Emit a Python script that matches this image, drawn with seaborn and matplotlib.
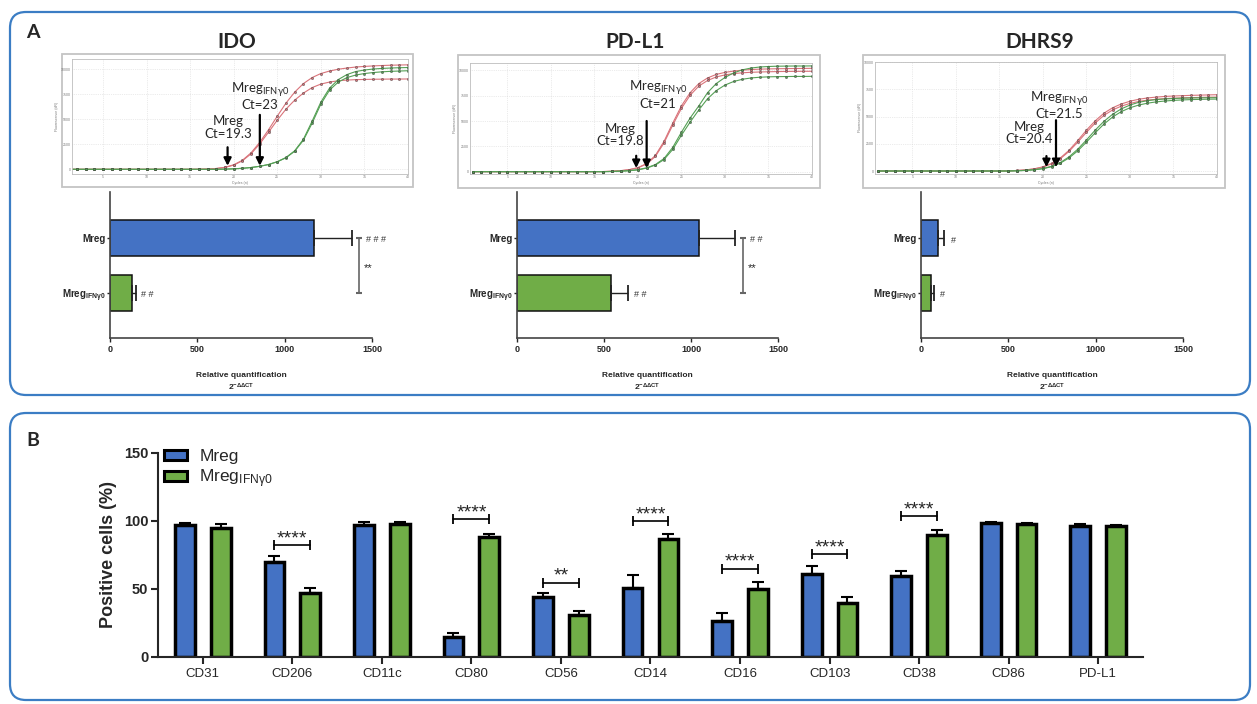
import matplotlib
matplotlib.use('Agg')
import pandas as pd
import seaborn as sns
import matplotlib.pyplot as plt
from matplotlib.patches import FancyBboxPatch, Rectangle
from matplotlib.transforms import IdentityTransform

# ---------------- data ----------------
# panel A, top: amplification curves (fluorescence per cycle), two replicates per group
cycles = list(range(1, 41))

ido_mreg_1 = [0, 0, 0, 0, 0, 0, 0, 0, 0, 0,
              0, 0, 0, 0, 0, 10, 30, 80, 200, 450,
              900, 1650, 2700, 3950, 5300, 6600, 7700, 8550, 9150, 9550,
              9800, 9980, 10100, 10200, 10260, 10310, 10350, 10380, 10400, 10420]
ido_mreg_2 = [0, 0, 0, 0, 0, 0, 0, 0, 0, 0,
              0, 0, 0, 0, 0, 10, 30, 80, 190, 420,
              850, 1550, 2550, 3700, 4900, 6000, 6900, 7600, 8150, 8500,
              8700, 8830, 8900, 8940, 8960, 8980, 8990, 9000, 9000, 9010]
ido_ifn_1 = [0, 0, 0, 0, 0, 0, 0, 0, 0, 0,
             0, 0, 0, 0, 0, 0, 0, 0, 20, 50,
             100, 180, 300, 480, 750, 1150, 1800, 2900, 4600, 6500,
             7900, 8700, 9150, 9400, 9550, 9650, 9720, 9770, 9800, 9830]
ido_ifn_2 = [0, 0, 0, 0, 0, 0, 0, 0, 0, 0,
             0, 0, 0, 0, 0, 0, 0, 0, 20, 50,
             100, 180, 300, 480, 760, 1180, 1850, 3000, 4800, 6700,
             8100, 8950, 9450, 9750, 9900, 10000, 10060, 10100, 10130, 10150]

pdl1_mreg_1 = [0, 0, 0, 0, 0, 0, 0, 0, 0, 0,
               0, 0, 0, 0, 0, 10, 40, 100, 200, 400,
               800, 1600, 3000, 4800, 6500, 7800, 8700, 9250, 9600, 9800,
               9930, 10020, 10080, 10120, 10140, 10160, 10170, 10180, 10190, 10200]
pdl1_mreg_2 = [0, 0, 0, 0, 0, 0, 0, 0, 0, 0,
               0, 0, 0, 0, 0, 10, 40, 90, 190, 380,
               760, 1500, 2850, 4600, 6250, 7550, 8450, 9000, 9350, 9550,
               9680, 9760, 9810, 9840, 9860, 9880, 9890, 9900, 9905, 9910]
pdl1_ifn_1 = [0, 0, 0, 0, 0, 0, 0, 0, 0, 0,
              0, 0, 0, 0, 0, 0, 20, 50, 100, 200,
              380, 700, 1300, 2400, 3900, 5300, 6500, 7800, 8700, 9300,
              9750, 10050, 10230, 10330, 10380, 10410, 10420, 10430, 10430, 10440]
pdl1_ifn_2 = [0, 0, 0, 0, 0, 0, 0, 0, 0, 0,
              0, 0, 0, 0, 0, 0, 20, 45, 90, 180,
              350, 650, 1200, 2200, 3600, 4900, 6100, 7200, 8000, 8550,
              8900, 9120, 9250, 9320, 9360, 9380, 9390, 9400, 9400, 9410]

dhrs9_mreg_1 = [0, 0, 0, 0, 0, 0, 0, 0, 0, 0,
                0, 0, 0, 0, 0, 10, 50, 100, 200, 380,
                700, 1200, 1900, 2800, 3750, 4600, 5300, 5800, 6150, 6400,
                6580, 6700, 6780, 6840, 6880, 6910, 6940, 6960, 6980, 7000]
dhrs9_mreg_2 = [0, 0, 0, 0, 0, 0, 0, 0, 0, 0,
                0, 0, 0, 0, 0, 10, 45, 95, 190, 360,
                660, 1130, 1800, 2650, 3550, 4400, 5100, 5600, 5950, 6200,
                6380, 6500, 6580, 6640, 6680, 6710, 6730, 6750, 6770, 6780]
dhrs9_ifn_1 = [0, 0, 0, 0, 0, 0, 0, 0, 0, 0,
               0, 0, 0, 0, 0, 0, 20, 60, 120, 230,
               430, 780, 1300, 2000, 2850, 3750, 4550, 5200, 5700, 6050,
               6300, 6450, 6550, 6610, 6650, 6680, 6700, 6710, 6720, 6730]
dhrs9_ifn_2 = [0, 0, 0, 0, 0, 0, 0, 0, 0, 0,
               0, 0, 0, 0, 0, 0, 20, 55, 110, 210,
               400, 720, 1200, 1850, 2650, 3500, 4300, 4950, 5450, 5800,
               6050, 6220, 6340, 6420, 6480, 6520, 6550, 6570, 6590, 6600]

genes = ['IDO', 'PD-L1', 'DHRS9']
ct_mreg = [19.3, 19.8, 20.4]
ct_ifn = [23, 21, 21.5]

# panel A, bottom: relative quantification 2^-ddCT
rq_mreg = [1166, 1047, 95]
rq_mreg_err = [219, 208, 38]
rq_ifn = [124, 541, 57]
rq_ifn_err = [25, 99, 19]
hash_mreg = ['# # #', '# #', '#']
hash_ifn = ['# #', '# #', '#']
sig_a = ['**', '**', '']

# panel B: positive cells (%)
markers_b = ['CD31', 'CD206', 'CD11c', 'CD80', 'CD56', 'CD14', 'CD16',
             'CD103', 'CD38', 'CD86', 'PD-L1']
pos_mreg = [97, 70, 97, 15, 44, 50.5, 26.5, 61, 59.5, 98.5, 96.5]
pos_mreg_err = [1.5, 4.5, 2, 3, 3, 10, 5.5, 6, 4, 0.5, 1]
pos_ifn = [94.5, 47, 97.5, 88, 31, 86.5, 50, 39.5, 89.5, 98, 96.5]
pos_ifn_err = [3, 3.5, 1.5, 2.5, 3, 4, 5, 4.5, 4, 0.8, 0.8]
sig_b = ['', '****', '', '****', '**', '****', '****', '****', '****', '', '']
sig_b_level = [0, 82, 0, 101.5, 54.5, 100, 65, 75.5, 103.5, 0, 0]

# ---------------- style ----------------
blue = '#4472C4'
green = '#70AD47'
frame_blue = '#3B7DC4'
red_curve = '#d9737a'
green_curve = '#55a055'
ifn_label = r'Mreg$_\mathregular{IFNγ0}$'

sns.set_style('ticks')
plt.rcParams['font.family'] = ['Liberation Sans', 'DejaVu Sans']
plt.rcParams['mathtext.default'] = 'regular'

W, H = 1257, 704
fig = plt.figure(figsize=(W / 100, H / 100), dpi=100)


def rect(l, t, r, b):
    return [l / W, 1 - b / H, (r - l) / W, (b - t) / H]


# rounded panel frames (pixel coordinates)
for l, t, r, b in [(10, 12, 1250, 395), (10, 413, 1250, 700)]:
    fig.add_artist(FancyBboxPatch((l, H - b), r - l, b - t,
                                  boxstyle='round,pad=0,rounding_size=16',
                                  transform=IdentityTransform(), fc='none',
                                  ec=frame_blue, lw=1.6, zorder=-2))

fig.text(33 / W, 1 - 33 / H, 'A', fontsize=14, fontweight='bold', family='Lato',
         ha='center', va='center')
fig.text(33 / W, 1 - 440 / H, 'B', fontsize=14, fontweight='bold', family='Lato',
         ha='center', va='center')

# ---------------- panel A: amplification curves ----------------
curves = {
    'IDO': [ido_mreg_1, ido_mreg_2, ido_ifn_1, ido_ifn_2],
    'PD-L1': [pdl1_mreg_1, pdl1_mreg_2, pdl1_ifn_1, pdl1_ifn_2],
    'DHRS9': [dhrs9_mreg_1, dhrs9_mreg_2, dhrs9_ifn_1, dhrs9_ifn_2],
}
rows = []
for gene, reps in curves.items():
    for i, vals in enumerate(reps):
        grp = 'Mreg' if i < 2 else 'IFN'
        for c, v in zip(cycles, vals):
            rows.append({'gene': gene, 'rep': i, 'group': grp, 'cycle': c, 'rfu': v})
df_curves = pd.DataFrame(rows)

title_x = [237, 635, 1040]
curve_box = [(72, 59, 408, 174), (470, 63, 812, 174), (875, 62, 1217, 174)]
shot_box = [(62, 54, 413, 187), (458, 55, 820, 188), (863, 55, 1225, 188)]
curve_ylim = [(-467, 11000), (-231, 10726), (-275, 10000)]
curve_xlim = [(1.45, 40), (0.7, 40), (0.7, 40)]
# label placement: (x of Mreg text, y of Mreg text, arrow start, x of IFN text, y of IFN text, arrow start)
annot = [(19.4, 4170, 2200, 23.0, 7350, 5430),
         (18.0, 3630, 1570, 22.3, 7670, 5000),
         (18.4, 3500, 1370, 21.9, 6100, 4660)]

for k, gene in enumerate(genes):
    fig.text(title_x[k] / W, 1 - 42 / H, gene, fontsize=15, fontweight='bold',
             family='Lato', ha='center', va='center')
    l, t, r, b = shot_box[k]
    fig.add_artist(Rectangle((l, H - b), r - l, b - t, transform=IdentityTransform(),
                             fc='white', ec='#c4c4c4', lw=1.3, zorder=-1))
    ax = fig.add_axes(rect(*curve_box[k]))
    ax.patch.set_alpha(0)
    sub = df_curves[df_curves.gene == gene]
    sns.lineplot(data=sub, x='cycle', y='rfu', hue='group', units='rep',
                 estimator=None, palette={'Mreg': red_curve, 'IFN': green_curve},
                 lw=0.8, marker='o', markersize=1.6, mec='#333333', mew=0.3,
                 legend=False, ax=ax)
    ax.set_xlim(*curve_xlim[k])
    ax.set_ylim(*curve_ylim[k])
    ax.set_xticks(range(5, 41, 5))
    ax.set_yticks([0, 2500, 5000, 7500, 10000])
    ax.grid(True, color='#d8d8d8', lw=0.5, ls=':')
    ax.tick_params(labelsize=2.5, length=0, pad=1, colors='#777777')
    ax.set_xlabel('Cycles (n)', fontsize=2.5, labelpad=1, color='#777777')
    ax.set_ylabel('Fluorescence (dR)', fontsize=2.5, labelpad=1, color='#777777')
    for s in ax.spines.values():
        s.set_color('#bdbdbd')
        s.set_linewidth(0.6)

    mx, my, ms, ix, iy, ist = annot[k]
    ax.text(mx, my, f'Mreg\nCt={ct_mreg[k]}', ha='center', va='center',
            fontsize=9.5, family='Lato', linespacing=1.05)
    ax.text(ix, iy, f'{ifn_label}\nCt={ct_ifn[k]}', ha='center', va='center',
            fontsize=9.5, family='Lato', linespacing=1.05)
    arrow = dict(arrowstyle='-|>', lw=1.6, color='black', mutation_scale=11,
                 shrinkA=0, shrinkB=0)
    ax.annotate('', xy=(ct_mreg[k], 350), xytext=(ct_mreg[k], ms), arrowprops=arrow)
    ax.annotate('', xy=(ct_ifn[k], 350), xytext=(ct_ifn[k], ist), arrowprops=arrow)

# ---------------- panel A: relative quantification bars ----------------
bar_box = [(110, 192, 372, 338), (517, 192, 778, 338), (921, 192, 1183, 338)]
bracket_x = [1424, 1299, None]

for k, gene in enumerate(genes):
    ax = fig.add_axes(rect(*bar_box[k]))
    dfa = pd.DataFrame({'group': ['Mreg', 'IFN'], 'rq': [rq_mreg[k], rq_ifn[k]]})
    sns.barplot(data=dfa, x='rq', y='group', hue='group', orient='h',
                palette={'Mreg': blue, 'IFN': green}, saturation=1, width=0.65,
                edgecolor='#111111', linewidth=1.1, legend=False, ax=ax)
    ax.errorbar([rq_mreg[k], rq_ifn[k]], [0, 1],
                xerr=[[0, 0], [rq_mreg_err[k], rq_ifn_err[k]]], fmt='none',
                ecolor='#222222', elinewidth=1.0, capsize=6, capthick=1.3)
    ax.set_xlim(0, 1500)
    ax.set_ylim(1.818, -0.836)
    ax.set_xticks([0, 500, 1000, 1500])
    ax.set_yticks([0, 1])
    ax.set_yticklabels(['Mreg', ifn_label])
    ax.tick_params(axis='x', labelsize=6.5, length=3, width=1, pad=2)
    ax.tick_params(axis='y', labelsize=7, length=2, width=1, pad=1)
    for lab in ax.get_xticklabels() + ax.get_yticklabels():
        lab.set_fontweight('bold')
    ax.set_ylabel('')
    ax.set_xlabel('Relative quantification\n' + r'2$^\mathregular{-ΔΔCT}$',
                  fontsize=6, fontweight='bold', labelpad=13, linespacing=1.3)
    sns.despine(ax=ax)
    for s in ['left', 'bottom']:
        ax.spines[s].set_linewidth(1.2)
        ax.spines[s].set_color('#444444')

    # significance marks
    off_m = rq_mreg[k] + rq_mreg_err[k]
    off_i = rq_ifn[k] + rq_ifn_err[k]
    if bracket_x[k] is not None:
        bx = bracket_x[k]
        ax.plot([bx, bx], [0, 1], color='#666666', lw=1.2, marker='_',
                markersize=5, mew=1.5, clip_on=False)
        ax.text(bx + 30, 0.55, sig_a[k], fontsize=8, ha='left', va='center')
        ax.text(bx + 40, 0.02, hash_mreg[k], fontsize=6.5, ha='left', va='center',
                color='#333333')
    else:
        ax.text(off_m + 40, 0.05, hash_mreg[k], fontsize=6.5, ha='left',
                va='center', color='#333333')
    ax.text(off_i + 30, 1.02, hash_ifn[k], fontsize=6.5, ha='left', va='center',
            color='#333333')

# ---------------- panel B ----------------
df_b = pd.DataFrame({
    'marker': markers_b * 2,
    'group': ['Mreg'] * len(markers_b) + ['IFN'] * len(markers_b),
    'pos': pos_mreg + pos_ifn,
})
ax = fig.add_axes(rect(158, 453, 1143, 657))
sns.barplot(data=df_b, x='marker', y='pos', hue='group',
            palette={'Mreg': blue, 'IFN': green}, saturation=1, width=0.8, gap=0.45,
            edgecolor='black', linewidth=2.5, errorbar=None, legend=False, ax=ax)

centers = []
for cont, err in zip(ax.containers, [pos_mreg_err, pos_ifn_err]):
    xs = [p.get_x() + p.get_width() / 2 for p in cont.patches]
    hs = [p.get_height() for p in cont.patches]
    centers.append(xs)
    ax.errorbar(xs, hs, yerr=[[0] * len(err), err], fmt='none', ecolor='black',
                elinewidth=1.5, capsize=4.5, capthick=1.5, zorder=1)

for i, s in enumerate(sig_b):
    if not s:
        continue
    x1, x2, y = centers[0][i], centers[1][i], sig_b_level[i]
    ax.plot([x1, x2], [y, y], color='black', lw=1.2, marker='|', markersize=7,
            mew=1.3)
    ax.text((x1 + x2) / 2, y - 1.5, s, ha='center', va='bottom', fontsize=14)

ax.set_xlim(-0.5, 10.5)
ax.set_ylim(0, 150)
ax.set_yticks([0, 50, 100, 150])
ax.set_xlabel('')
ax.set_ylabel('Positive cells (%)', fontsize=13, fontweight='bold', labelpad=5)
ax.tick_params(axis='y', labelsize=10.5, length=5, width=1.5, pad=2)
ax.tick_params(axis='x', labelsize=9.5, length=5, width=1.5, pad=3)
for lab in ax.get_yticklabels():
    lab.set_fontweight('bold')
sns.despine(ax=ax)
for s in ['left', 'bottom']:
    ax.spines[s].set_linewidth(1.5)

handles = [Rectangle((0, 0), 1, 1, fc=blue, ec='black', lw=2.2),
           Rectangle((0, 0), 1, 1, fc=green, ec='black', lw=2.2)]
ax.legend(handles, ['Mreg', ifn_label], loc='upper left', bbox_to_anchor=(0.003, 1.035),
          frameon=False, fontsize=12.5, handlelength=1.3, handleheight=0.5,
          handletextpad=0.7, labelspacing=0.15, borderpad=0.2, borderaxespad=0)

fig.savefig('out.png', dpi=100)
